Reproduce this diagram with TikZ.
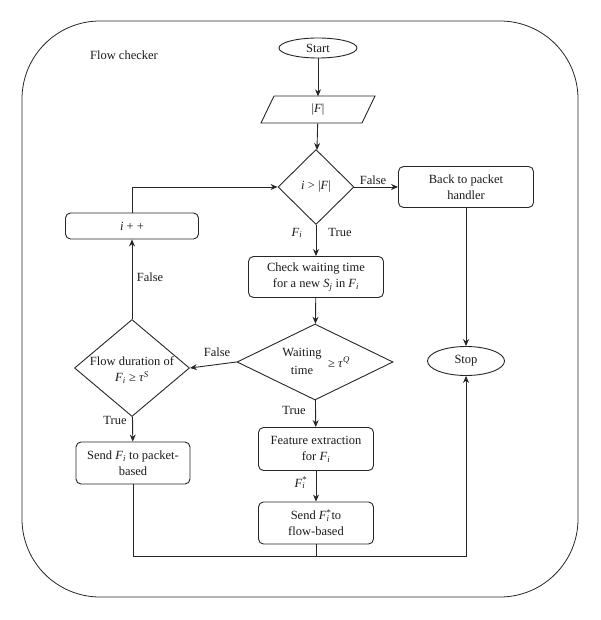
\documentclass[tikz,border=0pt]{standalone}
\usepackage{fontspec}
\setmainfont{Liberation Serif}
\usetikzlibrary{shapes.geometric,arrows.meta,calc}
\newcommand\mFi{\textit{F}\textsubscript{\textit{i}}}
\newcommand\mFis{\mbox{\textit{F}\ooalign{\textsuperscript{*}\cr\textsubscript{\textit{i}}}}}
\tikzset{
  ln/.style={line width=0.9pt, draw=black!85},
  arr/.style={ln, -{Stealth[length=7pt,width=6pt]}},
  box/.style={draw=black!85, line width=0.9pt, rounded corners=5pt, align=center, inner sep=0pt},
  term/.style={ellipse, draw=black!85, line width=0.9pt, inner sep=0pt},
  dia/.style={diamond, draw=black!85, line width=0.9pt, inner sep=0pt},
  txt/.style={inner sep=1pt, align=center},
}
\begin{document}
\begin{tikzpicture}[x=1pt,y=-1pt,font=\fontsize{12.5}{16}\selectfont, text=black!90]
\useasboundingbox (0,0) rectangle (600,620);
\draw[line width=0.8pt, draw=black!85, rounded corners=78pt] (22,21) rectangle (578,597);
\node[txt] (title) at (124,55) {Flow checker};

\node[term, minimum width=78, minimum height=20] (start) at (318,48) {Start};
\node[inner sep=0pt, minimum width=101, minimum height=27] (inp) at (318,110) {|\textit{F}|};
\draw[ln] (261,123) -- (274,96) -- (375,96) -- (362,123) -- cycle;

\node[dia, minimum width=76, minimum height=75] (cond) at (316,187) {};
\node[txt] (condt) at (316,187) {\textit{i} > |\textit{F}|};

\node[box, minimum width=135, minimum height=41] (back) at (466,187) {Back to packet\\handler};
\node[box, minimum width=135, minimum height=41] (check) at (316,277) {Check waiting time\\for a new \textit{S}\textsubscript{\textit{j}} in \mFi};
\node[box, minimum width=133, minimum height=26] (inc) at (132,226) {\textit{i} + +};

\node[dia, minimum width=156, minimum height=76] (wait) at (315,362) {};
\node[txt] (waita) at (302,354) {Waiting};
\node[txt] (waitb) at (302,370) {time};
\node[txt] (waitc) at (339,362) {≥ \textit{τ}\textsuperscript{\textit{Q}}};

\node[dia, minimum width=115, minimum height=97] (dur) at (132,368) {};
\node[txt] (durt) at (132,370) {Flow duration of\\\mFi{} ≥ \textit{τ}\textsuperscript{\textit{S}}};

\node[term, minimum width=77, minimum height=29] (stop) at (466,361) {Stop};
\node[box, minimum width=115, minimum height=43] (feat) at (316,449) {Feature extraction\\for \mFi};
\node[box, minimum width=115, minimum height=42] (sendf) at (316,523) {Send \mFis{}to\\flow-based};
\node[box, minimum width=114, minimum height=42] (sendp) at (133,463) {Send \mFi{} to packet-\\based};

\coordinate (br) at (466,556);

\draw[arr] (start) -- (inp);
\draw[arr] (inp) -- (cond);
\draw[arr] (cond) -- (back);
\draw[arr] (cond) -- (check);
\draw[arr] (check) -- (wait);
\draw[arr] (wait) -- (feat);
\draw[arr] (feat) -- (sendf);
\draw[arr] (wait.west) -- (dur.east);
\draw[arr] (dur) -- (sendp);
\draw[arr] (dur) -- (inc);
\draw[arr] (inc.north) |- (cond.west);
\draw[arr] (back) -- (stop);
\draw[arr] (sendp.south) |- (br) -- (stop.south);
\draw[ln] (sendf.south) -- (sendf.south |- br);

\node[txt] (lf1) at (373,180) {False};
\node[txt] (lfi) at (297,233) {\mFi};
\node[txt] (lt1) at (340,232) {True};
\node[txt] (lf2) at (150,277) {False};
\node[txt] (lf3) at (217,352) {False};
\node[txt] (lt2) at (115,420) {True};
\node[txt] (lt3) at (294,410) {True};
\node[txt] (lfs) at (301,483) {\mFis};
\end{tikzpicture}
\end{document}
